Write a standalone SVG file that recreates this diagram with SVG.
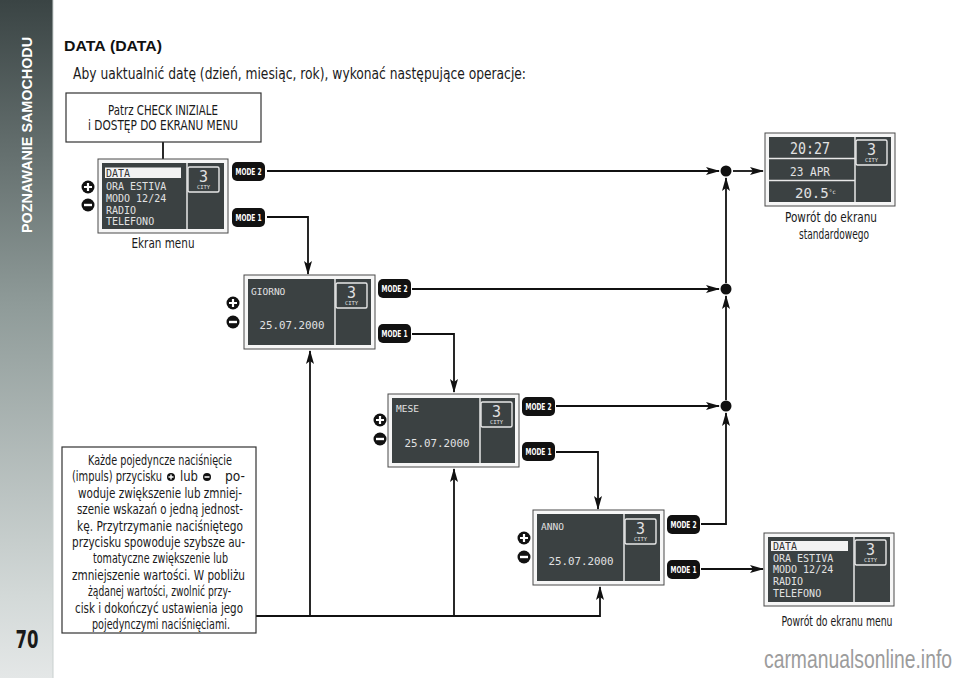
<svg xmlns="http://www.w3.org/2000/svg" width="960" height="678" viewBox="0 0 960 678">
<defs>
<linearGradient id="side" x1="0" y1="0" x2="0" y2="1">
<stop offset="0" stop-color="#3a4444"/>
<stop offset="0.45" stop-color="#8f9b99"/>
<stop offset="0.88" stop-color="#d3d9d8"/>
<stop offset="1" stop-color="#e4e7e7"/>
</linearGradient>
<marker id="ah" markerWidth="14" markerHeight="8" refX="13" refY="4" orient="auto" markerUnits="userSpaceOnUse">
<path d="M0,0 L14,4 L0,8 L3,4 z" fill="#111"/>
</marker>
<g id="pl"><circle r="6.5" fill="#111"/><path d="M-4,0H4M0,-4V4" stroke="#fff" stroke-width="2.2"/></g>
<g id="mi"><circle r="6.5" fill="#111"/><path d="M-4,0H4" stroke="#fff" stroke-width="2.4"/></g>
<g id="spl"><circle r="4" fill="#111"/><path d="M-2.5,0H2.5M0,-2.5V2.5" stroke="#fff" stroke-width="1.4"/></g>
<g id="smi"><circle r="4" fill="#111"/><path d="M-2.5,0H2.5" stroke="#fff" stroke-width="1.5"/></g>
<g id="city">
<rect x="0" y="0" width="31" height="25" rx="1.5" fill="none" stroke="#e8e8e8" stroke-width="1.4"/>
<text x="15.5" y="15" text-anchor="middle" font-size="15" class="lcd">3</text>
<text x="15.5" y="22" text-anchor="middle" font-size="5.5" class="lcd">CITY</text>
</g>
</defs>
<style>
.n{font-family:"Liberation Sans Narrow","DejaVu Sans Condensed","Liberation Sans",sans-serif;font-stretch:condensed;fill:#1a1a1a}
.lcd{font-family:"DejaVu Sans Mono","Liberation Mono",monospace;fill:#e2e2e2}
.c{fill:none;stroke:#111;stroke-width:1.8}
.ca{fill:none;stroke:#111;stroke-width:1.8;marker-end:url(#ah)}
.so{fill:#f6f6f6;stroke:#4a4a4a;stroke-width:1}
.si{fill:#3b4142}
.sep{stroke:#e8e8e8;stroke-width:1.5;fill:none}
.btn{fill:#111}
.bt{font-family:"Liberation Sans Narrow","DejaVu Sans Condensed","Liberation Sans",sans-serif;font-weight:bold;font-size:8.5px;fill:#fff}
.box{fill:#fff;stroke:#333;stroke-width:1.2}
</style>

<!-- sidebar -->
<rect x="0" y="0" width="53" height="678" fill="url(#side)"/>
<line x1="53" y1="0" x2="53" y2="678" stroke="#c9d0cf" stroke-width="1"/>
<text transform="translate(32,135) rotate(-90)" text-anchor="middle" font-family="Liberation Sans, sans-serif" font-weight="bold" font-size="14" fill="#fff" textLength="196" lengthAdjust="spacingAndGlyphs">POZNAWANIE SAMOCHODU</text>
<text x="27" y="648" text-anchor="middle" class="n" font-weight="bold" font-size="25" fill="#222" textLength="23" lengthAdjust="spacingAndGlyphs">70</text>

<!-- headings -->
<text x="64" y="51" font-family="Liberation Sans, sans-serif" font-weight="bold" font-size="15" fill="#111" textLength="98" lengthAdjust="spacingAndGlyphs"><tspan font-weight="900">DATA</tspan> (DATA)</text>
<text x="73" y="79" class="n" font-size="16" textLength="453" lengthAdjust="spacingAndGlyphs">Aby uaktualnić datę (dzień, miesiąc, rok), wykonać następujące operacje:</text>

<!-- connectors -->
<g id="connectors">
<line class="c" x1="163" y1="142" x2="163" y2="159"/>
<line class="ca" x1="267" y1="171" x2="719" y2="171"/>
<line class="ca" x1="733" y1="171" x2="763" y2="171"/>
<polyline class="ca" points="267,217 308,217 308,274"/>
<line class="ca" x1="412" y1="289" x2="719" y2="289"/>
<polyline class="ca" points="412,334 454,334 454,392"/>
<line class="ca" x1="556" y1="406" x2="719" y2="406"/>
<polyline class="ca" points="556,452 598,452 598,509"/>
<polyline class="ca" points="701,524 726,524 726,413"/>
<line class="ca" x1="726" y1="400" x2="726" y2="296"/>
<line class="ca" x1="726" y1="283" x2="726" y2="178"/>
<line class="ca" x1="701" y1="569" x2="763" y2="569"/>
<polyline class="ca" points="256,616 600,616 600,587"/>
<line class="ca" x1="310" y1="616" x2="310" y2="351"/>
<line class="ca" x1="454" y1="616" x2="454" y2="469"/>
<circle cx="726" cy="171" r="5.5" fill="#111"/>
<circle cx="726" cy="289" r="5.5" fill="#111"/>
<circle cx="726" cy="406" r="5.5" fill="#111"/>
</g>

<!-- start box -->
<g id="start">
<rect class="box" x="66" y="93" width="195" height="49"/>
<text x="163" y="115" text-anchor="middle" class="n" font-size="13.5" textLength="110" lengthAdjust="spacingAndGlyphs">Patrz CHECK INIZIALE</text>
<text x="163" y="130" text-anchor="middle" class="n" font-size="13.5" textLength="150" lengthAdjust="spacingAndGlyphs">i DOSTĘP DO EKRANU MENU</text>
</g>

<!-- menu screen -->
<g id="menu">
<g transform="translate(98,159)">
<rect class="so" x="0" y="0" width="130" height="74"/>
<rect class="si" x="4" y="4" width="122" height="66"/>
<line class="sep" x1="89" y1="4" x2="89" y2="70"/>
<use href="#city" x="90" y="8"/>
<rect x="7" y="8.5" width="76" height="10.5" fill="#f2f2f2"/>
<text x="8" y="17.5" font-size="10" class="lcd" style="fill:#333">DATA</text>
<text x="8" y="30.5" font-size="10" class="lcd">ORA ESTIVA</text>
<text x="8" y="42.5" font-size="10" class="lcd">MODO 12/24</text>
<text x="8" y="54.5" font-size="10" class="lcd">RADIO</text>
<text x="8" y="66" font-size="10" class="lcd">TELEFONO</text>
</g>
<text x="163" y="248" text-anchor="middle" class="n" font-size="13.5" textLength="63" lengthAdjust="spacingAndGlyphs">Ekran menu</text>
<use href="#pl" x="88" y="187"/>
<use href="#mi" x="88" y="205"/>
<rect class="btn" x="232" y="162" width="33" height="19" rx="5"/>
<text class="bt" x="248.5" y="174.8" text-anchor="middle" textLength="26" lengthAdjust="spacingAndGlyphs">MODE 2</text>
<rect class="btn" x="232" y="208" width="33" height="19" rx="5"/>
<text class="bt" x="248.5" y="220.8" text-anchor="middle" textLength="26" lengthAdjust="spacingAndGlyphs">MODE 1</text>
</g>

<!-- standard screen -->
<g id="standard">
<rect class="so" x="765" y="133" width="130" height="73"/>
<rect class="si" x="769" y="137" width="122" height="65"/>
<line class="sep" x1="855" y1="137" x2="855" y2="202"/>
<line class="sep" x1="769" y1="158.5" x2="855" y2="158.5"/>
<line class="sep" x1="769" y1="180.5" x2="855" y2="180.5"/>
<use href="#city" x="856" y="140"/>
<text x="810" y="154" text-anchor="middle" font-size="16" class="lcd" textLength="40" lengthAdjust="spacingAndGlyphs">20:27</text>
<text x="810" y="176" text-anchor="middle" font-size="13" class="lcd" textLength="40" lengthAdjust="spacingAndGlyphs">23 APR</text>
<text x="795" y="198" font-size="14" class="lcd">20.5<tspan font-size="6" dy="-4">°c</tspan></text>
<text x="831" y="222" text-anchor="middle" class="n" font-size="13.5" textLength="92" lengthAdjust="spacingAndGlyphs">Powrót do ekranu</text>
<text x="834" y="239" text-anchor="middle" class="n" font-size="13.5" textLength="70" lengthAdjust="spacingAndGlyphs">standardowego</text>
</g>

<!-- GIORNO -->
<g id="giorno">
<rect class="so" x="244" y="275" width="131" height="74"/>
<rect class="si" x="248" y="279" width="123" height="66"/>
<line class="sep" x1="335" y1="279" x2="335" y2="345"/>
<use href="#city" x="336" y="283"/>
<text x="251" y="295" font-size="9.5" class="lcd">GIORNO</text>
<text x="292" y="329" text-anchor="middle" font-size="11" class="lcd" textLength="65" lengthAdjust="spacingAndGlyphs">25.07.2000</text>
<use href="#pl" x="233" y="303"/>
<use href="#mi" x="233" y="322"/>
<rect class="btn" x="378" y="279" width="33" height="19" rx="5"/>
<text class="bt" x="394.5" y="291.8" text-anchor="middle" textLength="26" lengthAdjust="spacingAndGlyphs">MODE 2</text>
<rect class="btn" x="378" y="324" width="33" height="19" rx="5"/>
<text class="bt" x="394.5" y="336.8" text-anchor="middle" textLength="26" lengthAdjust="spacingAndGlyphs">MODE 1</text>
</g>

<!-- MESE -->
<g id="mese">
<rect class="so" x="388" y="394" width="131" height="73"/>
<rect class="si" x="392" y="398" width="123" height="65"/>
<line class="sep" x1="480" y1="398" x2="480" y2="463"/>
<use href="#city" x="481" y="402"/>
<text x="396" y="412" font-size="9.5" class="lcd">MESE</text>
<text x="437" y="447" text-anchor="middle" font-size="11" class="lcd" textLength="65" lengthAdjust="spacingAndGlyphs">25.07.2000</text>
<use href="#pl" x="380" y="420"/>
<use href="#mi" x="380" y="439"/>
<rect class="btn" x="522" y="397" width="33" height="19" rx="5"/>
<text class="bt" x="538.5" y="409.8" text-anchor="middle" textLength="26" lengthAdjust="spacingAndGlyphs">MODE 2</text>
<rect class="btn" x="522" y="442" width="33" height="19" rx="5"/>
<text class="bt" x="538.5" y="454.8" text-anchor="middle" textLength="26" lengthAdjust="spacingAndGlyphs">MODE 1</text>
</g>

<!-- ANNO -->
<g id="anno">
<rect class="so" x="533" y="510" width="131" height="75"/>
<rect class="si" x="537" y="514" width="123" height="67"/>
<line class="sep" x1="624" y1="514" x2="624" y2="581"/>
<use href="#city" x="625" y="519"/>
<text x="541" y="530" font-size="9.5" class="lcd">ANNO</text>
<text x="581" y="565" text-anchor="middle" font-size="11" class="lcd" textLength="65" lengthAdjust="spacingAndGlyphs">25.07.2000</text>
<use href="#pl" x="524" y="538"/>
<use href="#mi" x="524" y="557"/>
<rect class="btn" x="667" y="515" width="33" height="19" rx="5"/>
<text class="bt" x="683.5" y="527.8" text-anchor="middle" textLength="26" lengthAdjust="spacingAndGlyphs">MODE 2</text>
<rect class="btn" x="667" y="560" width="33" height="19" rx="5"/>
<text class="bt" x="683.5" y="572.8" text-anchor="middle" textLength="26" lengthAdjust="spacingAndGlyphs">MODE 1</text>
</g>

<!-- return menu screen -->
<g id="menu-return">
<g transform="translate(764,533)">
<rect class="so" x="0" y="0" width="130" height="73"/>
<rect class="si" x="4" y="4" width="122" height="65"/>
<line class="sep" x1="90" y1="4" x2="90" y2="69"/>
<use href="#city" x="91" y="7"/>
<rect x="7" y="8" width="77" height="10" fill="#f2f2f2"/>
<text x="9" y="16.5" font-size="10" class="lcd" style="fill:#333">DATA</text>
<text x="9" y="28.5" font-size="10" class="lcd">ORA ESTIVA</text>
<text x="9" y="40" font-size="10" class="lcd">MODO 12/24</text>
<text x="9" y="51.5" font-size="10" class="lcd">RADIO</text>
<text x="9" y="63.5" font-size="10" class="lcd">TELEFONO</text>
</g>
<text x="837" y="626" text-anchor="middle" class="n" font-size="13.5" textLength="111" lengthAdjust="spacingAndGlyphs">Powrót do ekranu menu</text>
</g>

<!-- note box -->
<g id="note">
<rect class="box" x="62" y="447" width="194" height="186"/>
<g class="n" font-size="13.5">
<text x="160" y="465" text-anchor="middle" textLength="144" lengthAdjust="spacingAndGlyphs">Każde pojedyncze naciśnięcie</text>
<text x="162" y="481.4" text-anchor="end" textLength="90" lengthAdjust="spacingAndGlyphs">(impuls) przycisku</text>
<text x="180" y="481.4" textLength="18" lengthAdjust="spacingAndGlyphs">lub</text>
<text x="245" y="481.4" text-anchor="end" textLength="20" lengthAdjust="spacingAndGlyphs">po-</text>
<text x="160" y="497.8" text-anchor="middle" textLength="164" lengthAdjust="spacingAndGlyphs">woduje zwiększenie lub zmniej-</text>
<text x="160" y="514.2" text-anchor="middle" textLength="166" lengthAdjust="spacingAndGlyphs">szenie wskazań o jedną jednost-</text>
<text x="160" y="530.6" text-anchor="middle" textLength="166" lengthAdjust="spacingAndGlyphs">kę. Przytrzymanie naciśniętego</text>
<text x="158.5" y="547" text-anchor="middle" textLength="173" lengthAdjust="spacingAndGlyphs">przycisku spowoduje szybsze au-</text>
<text x="160.5" y="563.4" text-anchor="middle" textLength="135" lengthAdjust="spacingAndGlyphs">tomatyczne zwiększenie lub</text>
<text x="158.5" y="579.8" text-anchor="middle" textLength="173" lengthAdjust="spacingAndGlyphs">zmniejszenie wartości. W pobliżu</text>
<text x="159.5" y="596.2" text-anchor="middle" textLength="143" lengthAdjust="spacingAndGlyphs">żądanej wartości, zwolnić przy-</text>
<text x="159" y="612.6" text-anchor="middle" textLength="168" lengthAdjust="spacingAndGlyphs">cisk i dokończyć ustawienia jego</text>
<text x="161" y="629" text-anchor="middle" textLength="138" lengthAdjust="spacingAndGlyphs">pojedynczymi naciśnięciami.</text>
</g>
<use href="#spl" x="171" y="477"/>
<use href="#smi" x="207" y="477"/>
</g>

<text x="952" y="668" text-anchor="end" font-family="Liberation Sans Narrow, Liberation Sans, sans-serif" font-size="26" fill="#9c9c9c" textLength="188" lengthAdjust="spacingAndGlyphs">carmanualsonline.info</text>
</svg>
